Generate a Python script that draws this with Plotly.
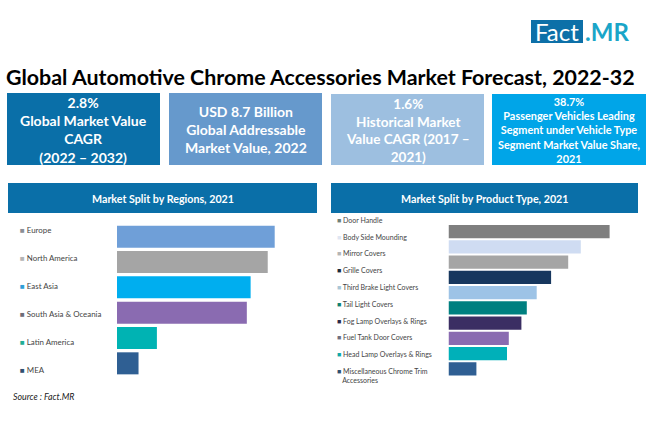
import plotly.graph_objects as go

W, H = 650, 443
FONT = "Lato"

regions = ["Europe", "North America", "East Asia", "South Asia & Oceania", "Latin America", "MEA"]
region_values = [24.9, 23.8, 21.1, 20.5, 6.3, 3.4]
region_colors = ["#6f9fd8", "#a5a5a5", "#00aeef", "#8a6bb1", "#00b3b3", "#2f5f93"]
region_swatches = ["#8a8f96", "#b5b5b5", "#2f9fd8", "#6d6d78", "#1fae96", "#2f4f70"]

products = ["Door Handle", "Body Side Mounding", "Mirror Covers", "Grille Covers",
            "Third Brake Light Covers", "Tail Light Covers", "Fog Lamp Overlays & Rings",
            "Fuel Tank Door Covers", "Head Lamp Overlays & Rings",
            "Miscellaneous Chrome Trim<br>   Accessories"]
product_values = [17.9, 14.7, 13.3, 11.4, 9.8, 8.7, 8.1, 6.7, 6.5, 3.1]
product_colors = ["#7f7f7f", "#cfdcf2", "#a5a5a5", "#17375e", "#9dc3e6",
                  "#008080", "#3b2e63", "#8a6bb1", "#00b0b9", "#2f5f93"]
product_swatches = ["#6f7f78", "#dfe6f2", "#b5b5b5", "#1a2a3a", "#a9c6d6",
                    "#108070", "#2a2a4a", "#6f6f80", "#10a8a8", "#2f4f70"]

kpi_texts = ["2.8%<br>Global Market Value<br>CAGR<br>(2022 – 2032)",
             "USD 8.7 Billion<br>Global Addressable<br>Market Value, 2022",
             "1.6%<br>Historical Market<br>Value CAGR (2017 –<br>2021)",
             "38.7%<br>Passenger Vehicles Leading<br>Segment under Vehicle Type<br>Segment Market Value Share,<br>2021"]
kpi_colors = ["#0a6fa8", "#6699cc", "#9dbfe0", "#00a5e8"]
kpi_font_sizes = [14, 14, 13.5, 10.9]
kpi_boxes = [(7, 160, 93, 165), (169, 322, 93, 165), (331, 484, 94, 165), (492, 646, 94, 165)]

title = "Global Automotive Chrome Accessories Market Forecast, 2022-32"
headers = ["Market Split by Regions, 2021", "Market Split by Product Type, 2021"]
header_boxes = [(8, 317, 183, 213), (331, 638, 183, 213)]
source = "Source : Fact.MR"


def px(x):
    return x / W


def py(y):
    return 1 - y / H


fig = go.Figure()
fig.add_trace(go.Bar(y=regions, x=region_values, orientation="h", xaxis="x", yaxis="y",
                     marker=dict(color=region_colors, line=dict(width=0)), showlegend=False))
fig.add_trace(go.Bar(y=products, x=product_values, orientation="h", xaxis="x2", yaxis="y2",
                     marker=dict(color=product_colors, line=dict(width=0)), showlegend=False))

shapes, ann = [], []


def box(b, color):
    shapes.append(dict(type="rect", xref="paper", yref="paper", layer="below",
                       x0=px(b[0]), x1=px(b[1]), y0=py(b[3]), y1=py(b[2]),
                       fillcolor=color, line=dict(width=0)))


def text(x, y, s, size, color="#ffffff", bold=False, anchor="center", italic=False):
    if bold:
        s = "<b>" + s.replace("<br>", "</b><br><b>") + "</b>"
    if italic:
        s = "<i>" + s + "</i>"
    ann.append(dict(x=px(x), y=py(y), xref="paper", yref="paper", text=s, showarrow=False,
                    xanchor=anchor, yanchor="middle", align="left" if anchor == "left" else "center",
                    font=dict(family=FONT, size=size, color=color)))


for b, c, t, s in zip(kpi_boxes, kpi_colors, kpi_texts, kpi_font_sizes):
    box(b, c)
    text((b[0] + b[1]) / 2, (b[2] + b[3]) / 2 + 0.5, t, s, bold=True)

for b, t in zip(header_boxes, headers):
    box(b, "#0a6fa8")
    text((b[0] + b[1]) / 2, (b[2] + b[3]) / 2 + 0.5, t, 10.7, bold=True)

text(320, 77, title, 21.4, color="#000000", bold=True)
text(11, 396, source, 8.8, color="#222222", anchor="left", italic=True)

# logo
box((531, 583, 20, 43), "#0d70a8")
text(557, 31.5, "Fact", 24, color="#ffffff")
text(583, 31.5, ".MR", 24, color="#1aa5c8", bold=True, anchor="left")

# legends
left_rows = [230, 258, 286, 314, 342, 370]
for y, name, c in zip(left_rows, regions, region_swatches):
    text(18, y, f'<span style="color:{c}">■</span> {name}', 7.9, color="#444444", anchor="left")
right_rows = [219.7, 236.5, 253, 270, 286.7, 303.5, 320.5, 337, 354, 375]
for y, name, c in zip(right_rows, products, product_swatches):
    text(335, y, f'<span style="color:{c}">■</span> {name}', 7, color="#444444", anchor="left")

axis_off = dict(visible=False, fixedrange=True)
fig.update_layout(
    width=W, height=H, autosize=False,
    margin=dict(l=0, r=0, t=0, b=0),
    paper_bgcolor="#ffffff", plot_bgcolor="rgba(0,0,0,0)",
    font=dict(family=FONT),
    bargap=0.13,
    xaxis=dict(domain=[px(117), px(307)], range=[0, 30], anchor="y", **axis_off),
    yaxis=dict(domain=[py(376), py(224)], autorange="reversed", type="category", anchor="x", **axis_off),
    xaxis2=dict(domain=[px(448.5), px(628.5)], range=[0, 20], anchor="y2", **axis_off),
    yaxis2=dict(domain=[py(376.5), py(224)], autorange="reversed", type="category", anchor="x2", **axis_off),
    shapes=shapes, annotations=ann,
)
fig.write_html("out.html", config=dict(displayModeBar=False),
               post_script="document.body.style.margin='0';")
